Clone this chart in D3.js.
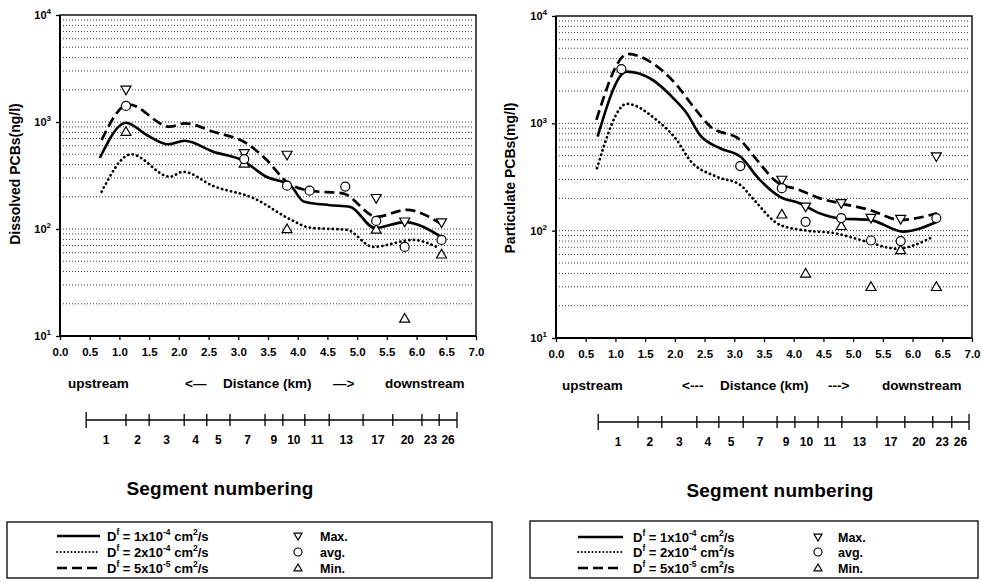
<!DOCTYPE html>
<html><head><meta charset="utf-8">
<script src="https://cdn.jsdelivr.net/npm/d3@7"></script>
<style>
body{margin:0;background:#fff}
svg{display:block;font-family:"Liberation Sans",Arial,Helvetica,sans-serif;font-weight:bold}
</style>
</head><body>
<svg id="chart" width="982" height="582"></svg>
<script>
// ---------- DATA ----------
const xTickValues = [0,0.5,1,1.5,2,2.5,3,3.5,4,4.5,5,5.5,6,6.5,7];
const yTickExponents = [1,2,3,4];
const segmentLabels = ["1","2","3","4","5","7","9","10","11","13","17","20","23","26"];
const segmentBoundsDissolved   = [0.44,1.11,1.50,2.09,2.47,2.86,3.45,3.75,4.12,4.53,5.10,5.60,6.09,6.38,6.68];
const segmentBoundsParticulate = [0.71,1.38,1.78,2.37,2.74,3.15,3.72,4.02,4.41,4.81,5.40,5.87,6.34,6.66,6.95];

// Dissolved PCBs (ng/l)
const dissSolidX  = [0.67,1.11,1.46,1.82,2.10,2.58,3.06,3.48,3.87,4.10,4.54,4.88,5.30,5.80,6.42];
const dissSolidY  = [461,985,756,619,669,527,441,306,258,181,167,161,102,116,84];
const dissDottedX = [0.70,1.20,1.85,2.07,2.58,3.25,3.90,4.20,4.83,5.27,5.94,6.39];
const dissDottedY = [223,499,308,343,252,195,121,103,98,68,79,66];
const dissDashedX = [0.70,1.15,1.85,2.10,2.58,3.14,3.48,3.81,4.20,4.76,5.33,5.83,6.42];
const dissDashedY = [679,1463,904,972,811,632,441,277,228,215,130,151,111];
const dissObsX    = [1.11,3.10,3.82,4.20,4.80,5.32,5.80,6.42];
const dissMax     = [2000,510,492,null,null,194,117,115];
const dissAvg     = [1412,450,254,228,249,119,68,79];
const dissMin     = [811,410,100,null,null,99,14.6,58];

// Particulate PCBs (mg/l)
const partSolidX  = [0.70,1.19,1.58,2.03,2.20,2.42,2.76,3.10,3.43,3.77,4.10,4.44,4.78,5.28,5.84,6.41];
const partSolidY  = [752,3033,2630,1592,1242,780,586,490,297,207,180,145,130,126,98,121];
const partDottedX = [0.69,1.19,1.69,2.03,2.25,2.70,3.10,3.31,3.77,4.22,4.67,5.23,5.73,6.35];
const partDottedY = [382,1517,1076,700,456,319,267,200,113,100,95,79,68,88];
const partDashedX = [0.68,1.21,1.58,2.03,2.31,2.60,3.10,3.38,3.71,4.10,4.44,4.78,5.28,5.79,6.41];
const partDashedY = [1076,4436,3758,2280,1432,931,700,456,286,239,200,180,156,126,145];
const partObsX    = [1.10,3.10,3.80,4.20,4.80,5.30,5.80,6.40];
const partMax     = [null,null,297,167,180,131,128,490];
const partAvg     = [3200,400,249,121,131,81,80,131];
const partMin     = [null,null,142,40,111,30,66,30];

const legendSeries = [
  {style:"solid",  parts:[["D",0],["f",1],[" =  1x10",0],["-4",1],[" cm",0],["2",1],["/s",0]]},
  {style:"dotted", parts:[["D",0],["f",1],[" =  2x10",0],["-4",1],[" cm",0],["2",1],["/s",0]]},
  {style:"dashed", parts:[["D",0],["f",1],[" =  5x10",0],["-5",1],[" cm",0],["2",1],["/s",0]]}
];
const legendMarkers = [["down","Max."],["circle","avg."],["up","Min."]];

// ---------- DRAWING ----------
const svg = d3.select("#chart");
const lineStyles = {
  solid:  {w:2.6, dash:null, cap:"butt"},
  dotted: {w:2.7, dash:"0.2,4.4", cap:"round"},
  dashed: {w:2.7, dash:"10,5", cap:"butt"}
};

function supText(t, parts, base, sup){
  parts.forEach(([s,isSup],i)=>{
    const prev = i>0 ? parts[i-1][1] : 0;
    let dy = 0;
    if (isSup && !prev) dy = -base*0.42;
    if (!isSup && prev) dy = base*0.42;
    t.append("tspan").attr("dy",dy).attr("font-size", isSup?sup:base).text(s);
  });
}

function marker(g, type, cx, cy, s){
  if (type==="circle"){
    g.append("circle").attr("cx",cx).attr("cy",cy).attr("r",s*0.5)
      .attr("fill","#fff").attr("stroke","#000").attr("stroke-width",1.2);
  } else {
    const area = s*s*0.433;
    g.append("path").attr("d", d3.symbol(d3.symbolTriangle, area)())
      .attr("transform",`translate(${cx},${cy + (type==="down"? -s*0.08 : s*0.08)}) rotate(${type==="down"?180:0})`)
      .attr("fill","#fff").attr("stroke","#000").attr("stroke-width",1.2);
  }
}

function panel(p){
  const g = svg.append("g");
  const x = d3.scaleLinear().domain([0,7]).range([p.x0,p.x1]);
  const y = d3.scaleLog().domain([10,10000]).range([p.y1,p.y0]);

  // grid
  const gridVals = [];
  [10,100,1000].forEach(d=>{ for(let m=1;m<=9;m++){ if(!(d===10&&m===1)) gridVals.push(d*m);} });
  g.append("g").selectAll("line").data(gridVals).join("line")
    .attr("x1",p.x0+3).attr("x2",p.x1-3)
    .attr("y1",d=>y(d)).attr("y2",d=>y(d))
    .attr("stroke","#222").attr("stroke-width",0.9).attr("stroke-dasharray","1,2");

  // frame
  g.append("rect").attr("x",p.x0).attr("y",p.y0).attr("width",p.x1-p.x0).attr("height",p.y1-p.y0)
    .attr("fill","none").attr("stroke","#000").attr("stroke-width",1.4);
  g.append("line").attr("x1",p.x0).attr("x2",p.x0).attr("y1",p.y0).attr("y2",p.y1).attr("stroke","#000").attr("stroke-width",2);
  g.append("line").attr("x1",p.x0).attr("x2",p.x1).attr("y1",p.y1).attr("y2",p.y1).attr("stroke","#000").attr("stroke-width",2);

  // x axis
  const xa = g.append("g").attr("transform",`translate(0,${p.y1})`)
    .call(d3.axisBottom(x).tickValues(xTickValues).tickSize(4).tickPadding(8).tickFormat(d3.format(".1f")));
  xa.select(".domain").remove();
  xa.selectAll("line").attr("stroke-width",1.3);
  xa.selectAll("text").attr("font-size",11.5).attr("font-weight","bold").attr("font-family","Liberation Sans, Arial, sans-serif");

  // y axis
  const ya = g.append("g").attr("transform",`translate(${p.x0},0)`)
    .call(d3.axisLeft(y).tickValues(yTickExponents.map(e=>Math.pow(10,e))).tickSize(4).tickFormat(""));
  ya.select(".domain").remove();
  ya.selectAll("line").attr("stroke-width",1.3);
  yTickExponents.forEach(e=>{
    const t = g.append("text").attr("x",p.x0-9).attr("y",y(Math.pow(10,e))+4).attr("text-anchor","end");
    supText(t, [["10",0],[String(e),1]], 11, 8);
  });

  // y title
  g.append("text")
    .attr("transform",`translate(${p.titleX},${p.titleY}) rotate(-90)`)
    .attr("text-anchor","middle").attr("font-size",14).text(p.title);

  // lines
  const lineGen = d3.line().x(d=>x(d[0])).y(d=>y(d[1])).curve(d3.curveMonotoneX);
  p.series.forEach(s=>{
    const st = lineStyles[s.style];
    g.append("path").datum(s.xs.map((v,i)=>[v,s.ys[i]]))
      .attr("d",lineGen).attr("fill","none").attr("stroke","#000")
      .attr("stroke-width",st.w).attr("stroke-linecap",st.cap)
      .attr("stroke-dasharray",st.dash);
  });

  // observation markers
  const mg = g.append("g");
  p.obsX.forEach((kx,i)=>{
    if (p.max[i]!=null) marker(mg,"down",x(kx),y(p.max[i]),10);
    if (p.min[i]!=null) marker(mg,"up",x(kx),y(p.min[i]),10);
    if (p.avg[i]!=null) marker(mg,"circle",x(kx),y(p.avg[i]),9);
  });

  // distance caption
  const cap = g.append("g").attr("font-size",13.5);
  p.caption.forEach(c=> cap.append("text").attr("x",c[0]).attr("y",p.capY).text(c[1]));

  // segment ruler
  const rg = g.append("g");
  const b = p.bounds;
  rg.append("line").attr("x1",x(b[0])).attr("x2",x(b[b.length-1])).attr("y1",p.rulerY).attr("y2",p.rulerY)
    .attr("stroke","#000").attr("stroke-width",1.3);
  rg.selectAll("line.tk").data(b).join("line").attr("class","tk")
    .attr("x1",d=>x(d)).attr("x2",d=>x(d))
    .attr("y1",(d,i)=>p.rulerY-((i===0||i===b.length-1)?8:6))
    .attr("y2",(d,i)=>p.rulerY+((i===0||i===b.length-1)?8:6))
    .attr("stroke","#000").attr("stroke-width",1.3);
  rg.selectAll("text").data(segmentLabels).join("text")
    .attr("x",(d,i)=>(x(b[i])+x(b[i+1]))/2).attr("y",p.rulerY+24)
    .attr("text-anchor","middle").attr("font-size",12).text(d=>d);

  g.append("text").attr("x",p.segX).attr("y",p.segY).attr("text-anchor","middle")
    .attr("font-size",19).attr("letter-spacing",0.2).text("Segment numbering");

  // legend
  const L = p.legend;
  const lg = g.append("g");
  lg.append("rect").attr("x",L.x).attr("y",L.y).attr("width",L.w).attr("height",L.h)
    .attr("fill","none").attr("stroke","#000").attr("stroke-width",1.3);
  legendSeries.forEach((s,i)=>{
    const yy = L.rows[i];
    const st = lineStyles[s.style];
    lg.append("line").attr("x1",L.lx0).attr("x2",L.lx1).attr("y1",yy).attr("y2",yy)
      .attr("stroke","#000").attr("stroke-width",s.style==="dotted"?1.8:st.w)
      .attr("stroke-linecap",st.cap).attr("stroke-dasharray",s.style==="dotted"?"0.2,3.4":st.dash);
    const t = lg.append("text").attr("x",L.tx).attr("y",yy+4.5);
    supText(t, s.parts, 13, 8.5);
  });
  legendMarkers.forEach((m,i)=>{
    const yy = L.rows[i];
    marker(lg, m[0], L.mx, yy, 8);
    lg.append("text").attr("x",L.mtx).attr("y",yy+4.5).attr("font-size",12.5).text(m[1]);
  });
}

panel({
  x0:60, x1:476, y0:15, y1:336,
  title:"Dissolved PCBs(ng/l)", titleX:20, titleY:174,
  series:[
    {style:"solid", xs:dissSolidX, ys:dissSolidY},
    {style:"dotted", xs:dissDottedX, ys:dissDottedY},
    {style:"dashed", xs:dissDashedX, ys:dissDashedY}
  ],
  obsX:dissObsX, max:dissMax, avg:dissAvg, min:dissMin,
  capY:388, caption:[[68,"upstream"],[185,"<—"],[223,"Distance (km)"],[333,"—>"],[385,"downstream"]],
  bounds:segmentBoundsDissolved, rulerY:420,
  segX:220, segY:495,
  legend:{x:7,y:522,w:485,h:56,rows:[536,552,568],lx0:57,lx1:100,tx:107,mx:298,mtx:320}
});

panel({
  x0:556, x1:972, y0:16, y1:338,
  title:"Particulate PCBs(mg/l)", titleX:515, titleY:178,
  series:[
    {style:"solid", xs:partSolidX, ys:partSolidY},
    {style:"dotted", xs:partDottedX, ys:partDottedY},
    {style:"dashed", xs:partDashedX, ys:partDashedY}
  ],
  obsX:partObsX, max:partMax, avg:partAvg, min:partMin,
  capY:390, caption:[[562,"upstream"],[682,"<---"],[720,"Distance (km)"],[828,"--->"],[882,"downstream"]],
  bounds:segmentBoundsParticulate, rulerY:422,
  segX:780, segY:497,
  legend:{x:530,y:521,w:448,h:57,rows:[537,552,568],lx0:578,lx1:623,tx:633,mx:818,mtx:838}
});
</script>
</body></html>
